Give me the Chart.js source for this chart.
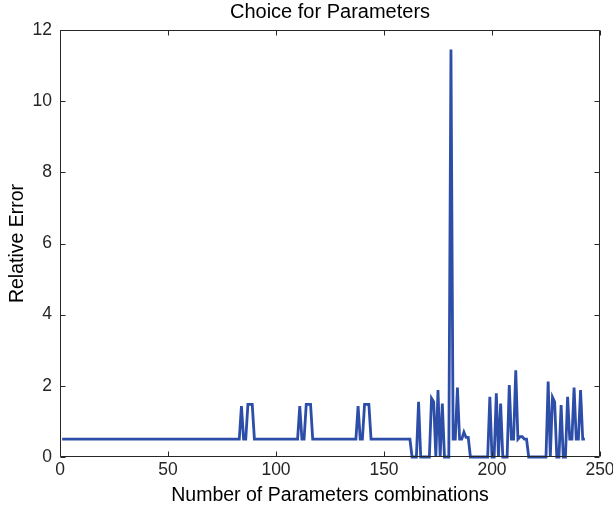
<!DOCTYPE html>
<html>
<head>
<meta charset="utf-8">
<script src="https://cdn.jsdelivr.net/npm/chart.js@4.4.0/dist/chart.umd.min.js"></script>
<style>
  html, body { margin: 0; padding: 0; background: #fff; }
  #wrap { width: 613px; height: 511px; }
</style>
</head>
<body>
<div id="wrap"><canvas id="errChart" width="613" height="511"></canvas></div>
<script>
// relative error for each of the 243 parameter combinations (index 1..243)
const relErr = [
  0.5, 0.5, 0.5, 0.5, 0.5, 0.5, 0.5, 0.5, 0.5, 0.5,
  0.5, 0.5, 0.5, 0.5, 0.5, 0.5, 0.5, 0.5, 0.5, 0.5,
  0.5, 0.5, 0.5, 0.5, 0.5, 0.5, 0.5, 0.5, 0.5, 0.5,
  0.5, 0.5, 0.5, 0.5, 0.5, 0.5, 0.5, 0.5, 0.5, 0.5,
  0.5, 0.5, 0.5, 0.5, 0.5, 0.5, 0.5, 0.5, 0.5, 0.5,
  0.5, 0.5, 0.5, 0.5, 0.5, 0.5, 0.5, 0.5, 0.5, 0.5,
  0.5, 0.5, 0.5, 0.5, 0.5, 0.5, 0.5, 0.5, 0.5, 0.5,
  0.5, 0.5, 0.5, 0.5, 0.5, 0.5, 0.5, 0.5, 0.5, 0.5,
  0.5, 0.5, 0.5, 1.43, 0.5, 0.5, 1.48, 1.48, 1.48, 0.5,
  0.5, 0.5, 0.5, 0.5, 0.5, 0.5, 0.5, 0.5, 0.5, 0.5,
  0.5, 0.5, 0.5, 0.5, 0.5, 0.5, 0.5, 0.5, 0.5, 0.5,
  1.43, 0.5, 0.5, 1.48, 1.48, 1.48, 0.5, 0.5, 0.5, 0.5,
  0.5, 0.5, 0.5, 0.5, 0.5, 0.5, 0.5, 0.5, 0.5, 0.5,
  0.5, 0.5, 0.5, 0.5, 0.5, 0.5, 0.5, 1.43, 0.5, 0.5,
  1.48, 1.48, 1.48, 0.5, 0.5, 0.5, 0.5, 0.5, 0.5, 0.5,
  0.5, 0.5, 0.5, 0.5, 0.5, 0.5, 0.5, 0.5, 0.5, 0.5,
  0.5, 0.5, 0, 0, 0, 1.55, 0, 0, 0, 0,
  0, 1.65, 1.55, 0, 1.88, 0, 1.5, 0, 0, 0,
  11.45, 0.5, 0.5, 1.95, 0.5, 0.5, 0.7, 0.55, 0.55, 0,
  0, 0, 0, 0, 0, 0, 0, 0, 1.69, 0,
  0, 1.79, 0, 1.5, 0, 0, 0, 2.02, 0.5, 0.5,
  2.44, 0.5, 0.57, 0.57, 0.5, 0.5, 0, 0, 0, 0,
  0, 0, 0, 0, 0, 2.12, 0, 1.68, 1.55, 0,
  0, 1.46, 0, 0, 1.69, 0.5, 0.5, 1.95, 0.5, 0.5,
  1.88, 0.5, 0.5
];
const xTicks = [0, 50, 100, 150, 200, 250];
const yTicks = [0, 2, 4, 6, 8, 10, 12];

const FONT = "'Liberation Sans', Arial, Helvetica, sans-serif";
const AXIS_COLOR = '#262626';

// MATLAB style box with inward ticks on all four sides
const matlabBox = {
  id: 'matlabBox',
  afterDatasetsDraw(chart) {
    const c = chart.ctx;
    const a = chart.chartArea;
    const xs = chart.scales.x, ys = chart.scales.y;
    const L = Math.round(a.left) + 0.5, R = Math.round(a.right) - 0.5;
    const T = Math.round(a.top) + 0.5, B = Math.round(a.bottom) - 0.5;
    const len = 5;
    c.save();
    c.strokeStyle = AXIS_COLOR;
    c.lineWidth = 1;
    c.beginPath();
    c.moveTo(L, T); c.lineTo(R, T); c.lineTo(R, B); c.lineTo(L, B); c.closePath();
    xTicks.forEach(v => {
      const px = Math.round(xs.getPixelForValue(v)) + 0.5;
      c.moveTo(px, B); c.lineTo(px, B - len);
      c.moveTo(px, T); c.lineTo(px, T + len);
    });
    yTicks.forEach(v => {
      const py = Math.round(ys.getPixelForValue(v)) + 0.5;
      c.moveTo(L, py); c.lineTo(L + len, py);
      c.moveTo(R, py); c.lineTo(R - len, py);
    });
    c.stroke();
    c.restore();
  }
};

const ctx = document.getElementById('errChart').getContext('2d');
new Chart(ctx, {
  type: 'line',
  data: {
    datasets: [{
      data: relErr.map((v, i) => ({ x: i + 1, y: v })),
      borderColor: '#2d4ea8',
      borderWidth: 2.8,
      pointRadius: 0,
      tension: 0,
      fill: false,
      clip: 4
    }]
  },
  options: {
    responsive: false,
    animation: false,
    layout: { padding: { left: 0, right: 13, top: 0, bottom: 0 } },
    plugins: {
      legend: { display: false },
      tooltip: { enabled: false },
      title: {
        display: true,
        fullSize: false,
        text: 'Choice for Parameters',
        color: '#000',
        font: { family: FONT, size: 20, weight: 'normal' },
        padding: { top: 0, bottom: 6 }
      }
    },
    scales: {
      x: {
        type: 'linear',
        min: 0,
        max: 250,
        afterBuildTicks: s => { s.ticks = xTicks.map(v => ({ value: v })); },
        afterFit: s => { s.height = 54; s.paddingLeft = 0; s.paddingRight = 0; },
        grid: { display: false, drawTicks: false },
        border: { display: false },
        ticks: { color: AXIS_COLOR, font: { family: FONT, size: 17.5 }, padding: 3, maxRotation: 0 },
        title: {
          display: true,
          text: 'Number of Parameters combinations',
          color: '#000',
          font: { family: FONT, size: 19.5 },
          padding: { top: 0, bottom: 4 }
        }
      },
      y: {
        min: 0,
        max: 12,
        afterBuildTicks: s => { s.ticks = yTicks.map(v => ({ value: v })); },
        afterFit: s => { s.width = 60; s.paddingTop = 0; s.paddingBottom = 0; },
        grid: { display: false, drawTicks: false },
        border: { display: false },
        ticks: { color: AXIS_COLOR, font: { family: FONT, size: 17.5 }, padding: 8 },
        title: {
          display: true,
          text: 'Relative Error',
          color: '#000',
          font: { family: FONT, size: 19.5 },
          padding: { top: 6, bottom: 0 }
        }
      }
    }
  },
  plugins: [matlabBox]
});
</script>
</body>
</html>
